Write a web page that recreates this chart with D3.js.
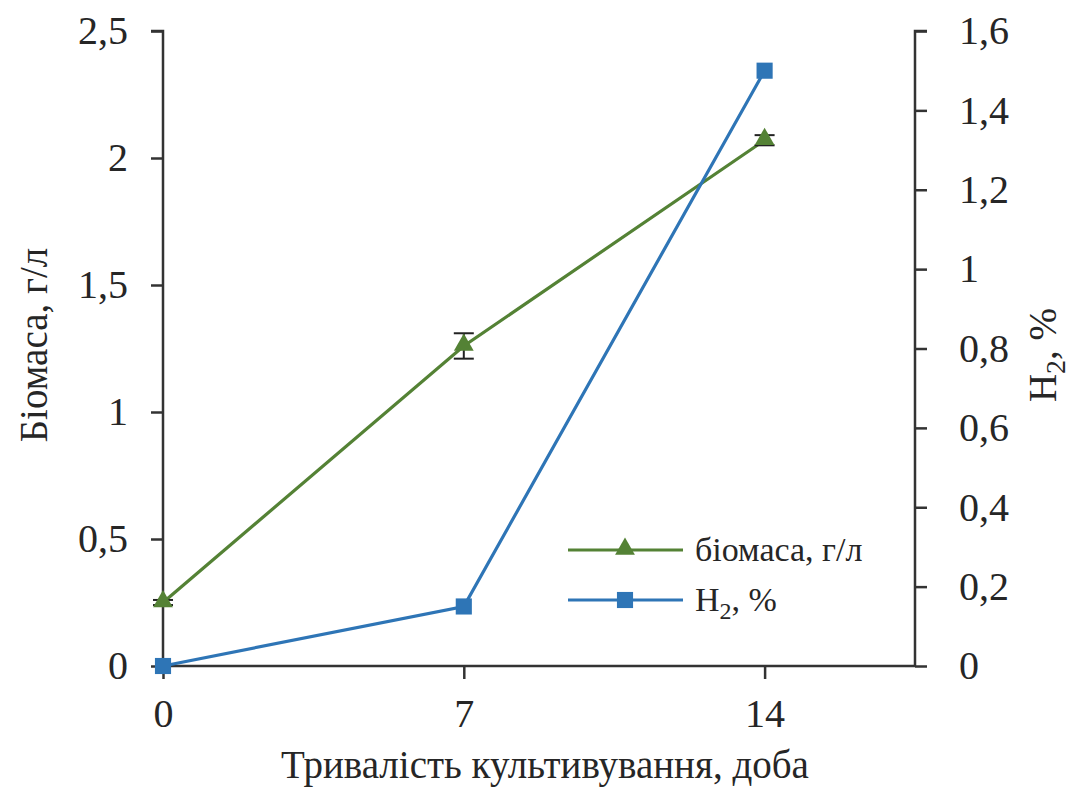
<!DOCTYPE html>
<html>
<head>
<meta charset="utf-8">
<script src="https://cdn.jsdelivr.net/npm/d3@7"></script>
<style>
  html, body { margin: 0; padding: 0; background: #fff; }
  svg { display: block; }
  svg text { font-family: "Liberation Serif", "Times New Roman", "DejaVu Serif", serif !important; fill: #262626; }
</style>
</head>
<body>
<svg id="chart" width="1070" height="787"></svg>
<script>
// Cultivation days
const days = [0, 7, 14];
// Biomass, g/l (left axis) with error bar half-widths
const biomass = [0.25, 1.26, 2.07];
const biomassErr = [0.01, 0.05, 0.02];
// Hydrogen, % (right axis)
const hydrogen = [0, 0.15, 1.5];

const xTicks = [0, 7, 14];
const leftTicks = [0, 0.5, 1, 1.5, 2, 2.5];
const rightTicks = [0, 0.2, 0.4, 0.6, 0.8, 1, 1.2, 1.4, 1.6];

const seriesNames = ["біомаса, г/л", "H2, %"];
const green = "#548235";
const blue = "#2E75B6";
const axisColor = "#333";
const serif = "'Liberation Serif', 'Times New Roman', serif";

const svg = d3.select("#chart");
const fmt = d => String(d).replace(".", ",");

const x = d3.scaleLinear().domain([0, 17.5]).range([163, 915]);
const yL = d3.scaleLinear().domain([0, 2.5]).range([666, 31]);
const yR = d3.scaleLinear().domain([0, 1.6]).range([666, 31]);

// Axes
const gx = svg.append("g").attr("transform", "translate(0,666)")
  .call(d3.axisBottom(x).tickValues(xTicks).tickSize(13).tickPadding(20).tickFormat(d => d));
const gl = svg.append("g").attr("transform", "translate(163,0)")
  .call(d3.axisLeft(yL).tickValues(leftTicks).tickSize(12).tickPadding(23).tickFormat(fmt));
const gr = svg.append("g").attr("transform", "translate(915,0)")
  .call(d3.axisRight(yR).tickValues(rightTicks).tickSize(12).tickPadding(32).tickFormat(fmt));

[gx, gl, gr].forEach(g => {
  g.attr("font-family", serif);
  g.select(".domain").attr("stroke", axisColor).attr("stroke-width", 2.5);
  g.selectAll(".tick line").attr("stroke", axisColor).attr("stroke-width", 2.5);
  g.selectAll(".tick text")
    .style("font-family", serif)
    .style("font-size", "40px").attr("fill", "#262626");
});
// x axis spans the full plot width without outer ticks
gx.select(".domain").attr("d", `M${x.range()[0]},0H${x.range()[1]}`);
gl.select(".domain").attr("d", `M-12,${yL.range()[1]}H0V${yL.range()[0]}`);
gr.select(".domain").attr("d", `M12,${yR.range()[1]}H0V${yR.range()[0]}`);

// Axis titles
svg.append("text").attr("x", 545).attr("y", 778).attr("text-anchor", "middle")
  .style("font-family", serif).style("font-size", "39px").text("Тривалість культивування, доба");
svg.append("text").attr("transform", "translate(47,345) rotate(-90)").attr("text-anchor", "middle")
  .style("font-family", serif).style("font-size", "39px").text("Біомаса, г/л");
const rt = svg.append("text").attr("transform", "translate(1056,355) rotate(-90)").attr("text-anchor", "middle")
  .style("font-family", serif).style("font-size", "39px");
rt.append("tspan").text("H");
rt.append("tspan").attr("dy", 9).style("font-size", "28px").text("2");
rt.append("tspan").attr("dy", -9).text(", %");

const tri = d3.symbol().type(d3.symbolTriangle).size(170);
const sq = d3.symbol().type(d3.symbolSquare).size(260);

// Biomass line
const biomassPts = days.map((d, i) => ({ d, v: biomass[i], e: biomassErr[i] }));
svg.append("path").datum(biomassPts)
  .attr("fill", "none").attr("stroke", green).attr("stroke-width", 3.2)
  .attr("d", d3.line().x(p => x(p.d)).y(p => yL(p.v)));

// Hydrogen line
const hPts = days.map((d, i) => ({ d, v: hydrogen[i] }));
svg.append("path").datum(hPts)
  .attr("fill", "none").attr("stroke", blue).attr("stroke-width", 3.2)
  .attr("d", d3.line().x(p => x(p.d)).y(p => yR(p.v)));

// Error bars on biomass
const eb = svg.append("g").attr("stroke", "#222").attr("stroke-width", 2);
biomassPts.forEach(p => {
  const cx = x(p.d), y1 = yL(p.v + p.e), y2 = yL(p.v - p.e);
  eb.append("line").attr("x1", cx).attr("x2", cx).attr("y1", y1).attr("y2", y2);
  eb.append("line").attr("x1", cx - 10).attr("x2", cx + 10).attr("y1", y1).attr("y2", y1);
  eb.append("line").attr("x1", cx - 10).attr("x2", cx + 10).attr("y1", y2).attr("y2", y2);
});

// Markers
svg.append("g").selectAll("path").data(biomassPts).join("path")
  .attr("d", tri).attr("fill", green)
  .attr("transform", p => `translate(${x(p.d)},${yL(p.v) - 1})`);
svg.append("g").selectAll("path").data(hPts).join("path")
  .attr("d", sq).attr("fill", blue)
  .attr("transform", p => `translate(${x(p.d)},${yR(p.v)})`);

// Legend
const leg = svg.append("g");
[[green, tri, 550], [blue, sq, 600]].forEach(([c, sym, ly], i) => {
  leg.append("line").attr("x1", 568).attr("x2", 683).attr("y1", ly).attr("y2", ly)
    .attr("stroke", c).attr("stroke-width", 3.2);
  leg.append("path").attr("d", sym).attr("fill", c)
    .attr("transform", `translate(625,${ly - (i === 0 ? 1 : 0)})`);
});
leg.append("text").attr("x", 695).attr("y", 561)
  .style("font-family", serif).style("font-size", "34px").text(seriesNames[0]);
const l2 = leg.append("text").attr("x", 695).attr("y", 611)
  .style("font-family", serif).style("font-size", "34px");
l2.append("tspan").text("H");
l2.append("tspan").attr("dy", 8).style("font-size", "24px").text("2");
l2.append("tspan").attr("dy", -8).text(", %");
</script>
</body>
</html>
